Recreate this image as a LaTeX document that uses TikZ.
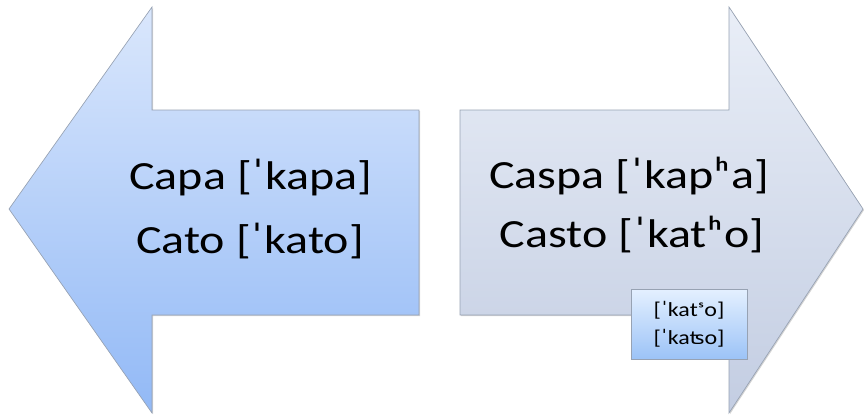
\documentclass[tikz,border=0pt]{standalone}
\usepackage{fontspec}
\setmainfont{Carlito}
\usetikzlibrary{positioning,shadows}

\definecolor{leftTop}{HTML}{DAE7FC}
\definecolor{leftBottom}{HTML}{92B9F6}
\definecolor{rightTop}{HTML}{E9EEF7}
\definecolor{rightBottom}{HTML}{C3CDE2}
\definecolor{boxTop}{HTML}{E4F0FF}
\definecolor{boxBottom}{HTML}{9CC3F7}
\definecolor{edgeGray}{HTML}{97A2B3}

% text of the slide is set a little wider than the font
\newcommand{\wide}[1]{\scalebox{1.2}[1]{#1}}

\begin{document}
\begin{tikzpicture}[x=0.75pt,y=-0.75pt,
    arrowshape/.style={draw=edgeGray, line width=0.5pt,
      drop shadow={shadow xshift=0.8pt, shadow yshift=-0.8pt, opacity=0.35}},
    bigword/.style={font=\fontsize{30}{36}\selectfont, anchor=base, inner sep=0pt},
    notebox/.style={rectangle, draw=edgeGray, line width=0.5pt,
      top color=boxTop, bottom color=boxBottom,
      minimum width=87pt, minimum height=52.5pt, inner sep=0pt,
      align=center, font=\fontsize{15}{21}\selectfont,
      drop shadow={shadow xshift=0.8pt, shadow yshift=-0.8pt, opacity=0.35}}
    ]
\useasboundingbox (0,0) rectangle (864,418);

% left arrow
\path[arrowshape, top color=leftTop, bottom color=leftBottom]
  (9,209) -- (152,7) -- (152,110) -- (419,110) -- (419,315)
  -- (152,315) -- (152,413) -- cycle;
% right arrow
\path[arrowshape, top color=rightTop, bottom color=rightBottom]
  (460,110) -- (729,110) -- (729,7) -- (863,209) -- (729,413)
  -- (729,315) -- (460,315) -- cycle;

\node[bigword] (capa) at (251,189) {\wide{Capa [ˈkapa]}};
\node[bigword] (cato) at (250,253) {\wide{Cato [ˈkato]}};
\node[bigword] (caspa) at (629,188) {\wide{Caspa [ˈkapʰa]}};
\node[bigword] (casto) at (632,247) {\wide{Casto [ˈkatʰo]}};

\node[notebox] (katso) at (689,324) {\wide{[ˈkatˢo]}\\\wide{[ˈkaʦo]}};
\end{tikzpicture}
\end{document}
